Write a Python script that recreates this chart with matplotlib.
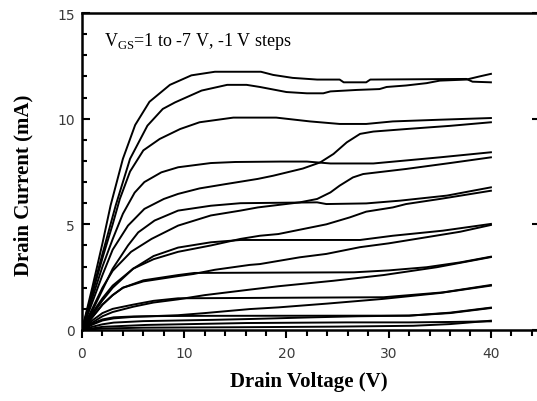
import numpy as np
import matplotlib.pyplot as plt
from matplotlib.ticker import MultipleLocator

plt.rcParams['mathtext.fontset'] = 'custom'
plt.rcParams['mathtext.rm'] = 'Liberation Serif'

# drain voltage (V) / drain current (mA), two sweeps per gate voltage
vd_1a = [0, 1, 2, 2.8, 4.0, 5.2, 6.6, 8.6, 10.7, 13, 17.5, 18.7, 20.6, 23, 25.2, 25.6, 27.8, 28.2, 37.6, 38.2, 40]
id_1a = [0, 2.0, 4.1, 5.9, 8.1, 9.7, 10.8, 11.6, 12.05, 12.22, 12.22, 12.07, 11.93, 11.85, 11.85, 11.72, 11.72, 11.85, 11.88, 11.75, 11.72]
vd_1b = [0, 1, 2, 3.3, 4.7, 6.4, 7.9, 9.1, 11.7, 14.2, 16.1, 17.4, 20, 22, 23.6, 24.3, 26.9, 29.1, 29.8, 31.7, 33.7, 35, 37.6, 38.9, 40]
id_1b = [0, 1.8, 3.6, 5.9, 8.1, 9.67, 10.46, 10.77, 11.33, 11.6, 11.6, 11.5, 11.26, 11.2, 11.2, 11.29, 11.36, 11.4, 11.5, 11.57, 11.68, 11.8, 11.85, 12.0, 12.12]

vd_2a = [0, 1, 2, 3, 3.7, 4.7, 6, 7.6, 9.6, 11.5, 14.8, 19, 22.3, 25.2, 27.8, 30.4, 35, 40]
id_2a = [0, 1.7, 3.4, 5.0, 6.2, 7.5, 8.5, 9.04, 9.51, 9.83, 10.05, 10.05, 9.87, 9.75, 9.75, 9.87, 9.95, 10.03]
vd_2b = [0, 1, 2, 3, 4.5, 6.1, 8, 9.4, 11.5, 14, 17.2, 18.7, 21.6, 23.3, 24.6, 25.9, 27.2, 28.5, 32, 36, 40]
id_2b = [0, 1.3, 2.6, 3.8, 4.94, 5.73, 6.2, 6.44, 6.7, 6.9, 7.15, 7.3, 7.64, 7.93, 8.33, 8.88, 9.28, 9.39, 9.52, 9.66, 9.83]

vd_3a = [0, 1, 2, 3, 4, 5.15, 6.1, 7.76, 9.4, 12.6, 15, 19.4, 22, 24.3, 28.5, 35, 40]
id_3a = [0, 1.5, 3.0, 4.3, 5.5, 6.5, 7.0, 7.46, 7.7, 7.9, 7.95, 7.97, 7.97, 7.88, 7.88, 8.17, 8.41]
vd_3b = [0, 1, 2, 3, 4.8, 6.8, 9.4, 12.6, 15.5, 17.2, 21.3, 23, 24.3, 25.2, 26.5, 27.5, 31.7, 36, 40]
id_3b = [0, 1.0, 2.0, 2.8, 3.7, 4.31, 4.94, 5.42, 5.65, 5.8, 6.04, 6.2, 6.51, 6.83, 7.22, 7.38, 7.62, 7.9, 8.17]

vd_4a = [0, 1, 2, 3, 4.5, 5.5, 7.1, 9.4, 12.6, 15.5, 23, 23.9, 27.8, 31.1, 35.7, 40]
id_4a = [0, 0.9, 1.9, 2.9, 4.0, 4.62, 5.18, 5.65, 5.88, 6.0, 6.04, 5.96, 5.99, 6.12, 6.36, 6.75]
vd_4b = [0, 1, 2, 3, 5, 7, 9.4, 12.6, 15.5, 17.4, 19.2, 23.9, 26.2, 27.8, 30.4, 31.7, 35, 40]
id_4b = [0, 0.8, 1.5, 2.1, 2.9, 3.35, 3.7, 4.0, 4.31, 4.46, 4.54, 5.0, 5.33, 5.6, 5.8, 5.96, 6.2, 6.59]

vd_5a = [0, 1, 2, 3, 5, 7, 9.4, 12.6, 15.5, 27.2, 30.4, 35.3, 40]
id_5a = [0, 0.7, 1.4, 2.0, 2.9, 3.5, 3.9, 4.15, 4.26, 4.26, 4.46, 4.7, 5.02]
vd_5b = [0, 1, 2, 3, 4, 6, 9.4, 10.9, 13, 16.4, 17.4, 21.3, 23.9, 27.2, 30, 33.7, 37, 40]
id_5b = [0, 0.6, 1.2, 1.65, 2.0, 2.3, 2.55, 2.65, 2.85, 3.08, 3.12, 3.44, 3.6, 3.92, 4.1, 4.39, 4.65, 4.97]

vd_6a = [0, 1, 2, 3, 4, 6, 9.4, 11, 26.6, 30, 33.7, 37, 40]
id_6a = [0, 0.6, 1.2, 1.65, 2.0, 2.35, 2.6, 2.7, 2.73, 2.82, 2.97, 3.2, 3.47]
vd_6b = [0, 1, 2, 3, 5, 7, 9.4, 12, 16.4, 19.2, 24.6, 29.5, 34.7, 40]
id_6b = [0, 0.35, 0.65, 0.85, 1.1, 1.3, 1.45, 1.65, 1.91, 2.07, 2.33, 2.6, 2.97, 3.45]

vd_7a = [0, 1, 2, 3, 5, 7, 9.4, 29.5, 35.3, 40]
id_7a = [0, 0.45, 0.8, 1.0, 1.2, 1.38, 1.5, 1.55, 1.78, 2.13]
vd_7b = [0, 1, 2, 3.1, 5, 9.4, 12, 16.4, 19.2, 24, 29.4, 35, 40]
id_7b = [0, 0.25, 0.45, 0.55, 0.62, 0.7, 0.8, 0.99, 1.07, 1.25, 1.47, 1.75, 2.1]

vd_8a = [0, 1, 2, 3.1, 5, 8, 12, 32, 36, 40]
id_8a = [0, 0.3, 0.5, 0.6, 0.64, 0.66, 0.67, 0.68, 0.8, 1.04]
vd_8b = [0, 1, 2, 3.1, 6, 12.8, 16.4, 22.6, 27, 32, 36, 40]
id_8b = [0, 0.15, 0.27, 0.35, 0.42, 0.48, 0.52, 0.6, 0.65, 0.68, 0.82, 1.06]

vd_9a = [0, 2, 6.3, 16.1, 25.9, 32, 36, 40]
id_9a = [0, 0.15, 0.24, 0.33, 0.36, 0.36, 0.38, 0.41]
vd_9b = [0, 2, 6, 15, 25, 32.4, 36, 40]
id_9b = [0, 0.07, 0.11, 0.13, 0.16, 0.2, 0.28, 0.44]

curves = [(vd_1a, id_1a), (vd_1b, id_1b), (vd_2a, id_2a), (vd_2b, id_2b),
          (vd_3a, id_3a), (vd_3b, id_3b), (vd_4a, id_4a), (vd_4b, id_4b),
          (vd_5a, id_5a), (vd_5b, id_5b), (vd_6a, id_6a), (vd_6b, id_6b),
          (vd_7a, id_7a), (vd_7b, id_7b), (vd_8a, id_8a), (vd_8b, id_8b),
          (vd_9a, id_9a), (vd_9b, id_9b)]

fig = plt.figure(figsize=(5.37, 4.02), dpi=100)
W, H = 537, 402
ax = fig.add_axes([82 / W, (H - 331) / H, (540 - 82) / W, (331 - 14) / H])

for vd, i_d in curves:
    ax.plot(vd, i_d, color='black', lw=1.4, solid_joinstyle='round')

ax.set_xlim(0, 44.8)
ax.set_ylim(0, 15)
ax.xaxis.set_major_locator(MultipleLocator(10))
ax.xaxis.set_minor_locator(MultipleLocator(2))
ax.yaxis.set_major_locator(MultipleLocator(5))
ax.yaxis.set_minor_locator(MultipleLocator(1))

for s in ax.spines.values():
    s.set_linewidth(1.8)

ax.tick_params(axis='y', which='major', direction='in', length=6, width=1.5,
               left=True, right=True, pad=5)
ax.tick_params(axis='y', which='minor', direction='in', length=3.8, width=1.5,
               left=True, right=False)
ax.tick_params(axis='x', which='major', direction='out', length=5.5, width=1.5,
               top=False, pad=6)
ax.tick_params(axis='x', which='minor', direction='out', length=4, width=1.5,
               top=False)

ax.set_xticks([0, 10, 20, 30, 40])
ax.set_xticklabels(['0', '10', '20', '30', '40'])
for lab in ax.get_xticklabels() + ax.get_yticklabels():
    lab.set_fontfamily('DejaVu Sans')
    lab.set_fontsize(10)
    lab.set_color('#3a3a3a')

ax.set_xlabel('Drain Voltage (V)', family='Liberation Serif', fontsize=15,
              fontweight='bold')
ax.set_ylabel('Drain Current (mA)', family='Liberation Serif', fontsize=15,
              fontweight='bold')
ax.xaxis.set_label_coords(0.495, -0.13)
ax.yaxis.set_label_coords(-0.105, 0.46)

ax.text(2.2, 13.7, r'V$_{\rm GS}$=1 to -7 V, -1 V steps', family='Liberation Serif',
        fontsize=13, va='center', ha='left')

fig.savefig('out.png', dpi=100)
